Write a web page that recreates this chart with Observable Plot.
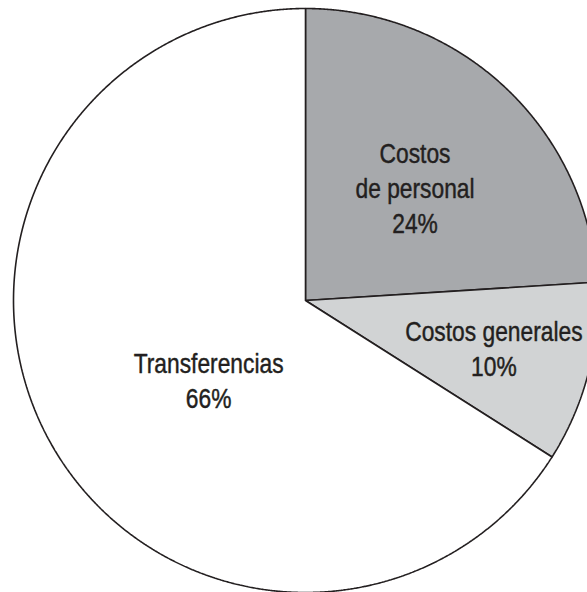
<!DOCTYPE html>
<html><head><meta charset="utf-8">
<script src="https://cdn.jsdelivr.net/npm/d3@7"></script>
<script src="https://cdn.jsdelivr.net/npm/@observablehq/plot@0.6"></script>
<style>body{margin:0;background:#fff} svg{overflow:hidden;display:block}</style>
</head><body><div id="chart"></div>
<script>
// ---- data ----
const categories = ["Costos de personal", "Costos generales", "Transferencias"];
const labelLines = ["Costos\nde personal", "Costos generales", "Transferencias"];
const values = [24, 10, 66];
const pctLabels = ["24%", "10%", "66%"];
const colors = ["#a7a9ac", "#d1d3d4", "#ffffff"];

// ---- layout ----
const W = 587, H = 592, CX = 305, CY = 300, R = 292;
const labelPolar = [{r: 0.54, a: 44}, {r: 0.665, a: 104}, {r: 0.427, a: 231}];
const FONT = "'Liberation Sans', Arial, Helvetica, sans-serif";
const NARROW = 0.8; // horizontal condensing of the label font

const arcs = d3.pie().sort(null).value(d => d)(values);
const poly = [];
arcs.forEach((a, i) => {
  const n = Math.max(2, Math.ceil((a.endAngle - a.startAngle) / 0.004));
  poly.push({name: categories[i], x: 0, y: 0});
  for (let k = 0; k <= n; k++) {
    const t = a.startAngle + (a.endAngle - a.startAngle) * k / n;
    poly.push({name: categories[i], x: Math.sin(t), y: Math.cos(t)});
  }
  poly.push({name: categories[i], x: 0, y: 0});
});
const labelData = categories.map((c, i) => {
  const t = labelPolar[i].a * Math.PI / 180;
  return {name: c, text: labelLines[i] + "\n" + pctLabels[i],
          x: labelPolar[i].r * Math.sin(t), y: labelPolar[i].r * Math.cos(t)};
});

const chart = Plot.plot({
  width: W, height: H, margin: 0,
  x: {domain: [-CX / R, (W - CX) / R], axis: null},
  y: {domain: [-(H - CY) / R, CY / R], axis: null},
  color: {domain: categories, range: colors},
  style: {background: "#fff", overflow: "hidden"},
  marks: [
    Plot.line(poly, {x: "x", y: "y", z: "name", fill: "name", stroke: "#231f20",
      strokeWidth: 1.6, strokeLinejoin: "miter", curve: "linear"}),
    Plot.text(labelData, {x: "x", y: "y", text: "text", fontSize: 28.5, lineHeight: 1.23,
      fill: "#231f20", stroke: "#231f20", strokeWidth: 0.45, paintOrder: "fill",
      fontFamily: FONT, textAnchor: "middle"})
  ]
});
// condense the label glyphs horizontally around each label's anchor
chart.querySelectorAll("text").forEach(t => {
  const tr = t.getAttribute("transform");
  if (tr && tr.includes("translate")) {
    t.setAttribute("transform", tr + ` scale(${NARROW},1)`);
  } else if (t.hasAttribute("x")) {
    const x = +t.getAttribute("x"), y = +t.getAttribute("y") || 0;
    t.removeAttribute("x"); t.removeAttribute("y");
    t.setAttribute("transform", `translate(${x},${y}) scale(${NARROW},1)`);
  }
});
document.getElementById("chart").appendChild(chart);
</script>
</body></html>
